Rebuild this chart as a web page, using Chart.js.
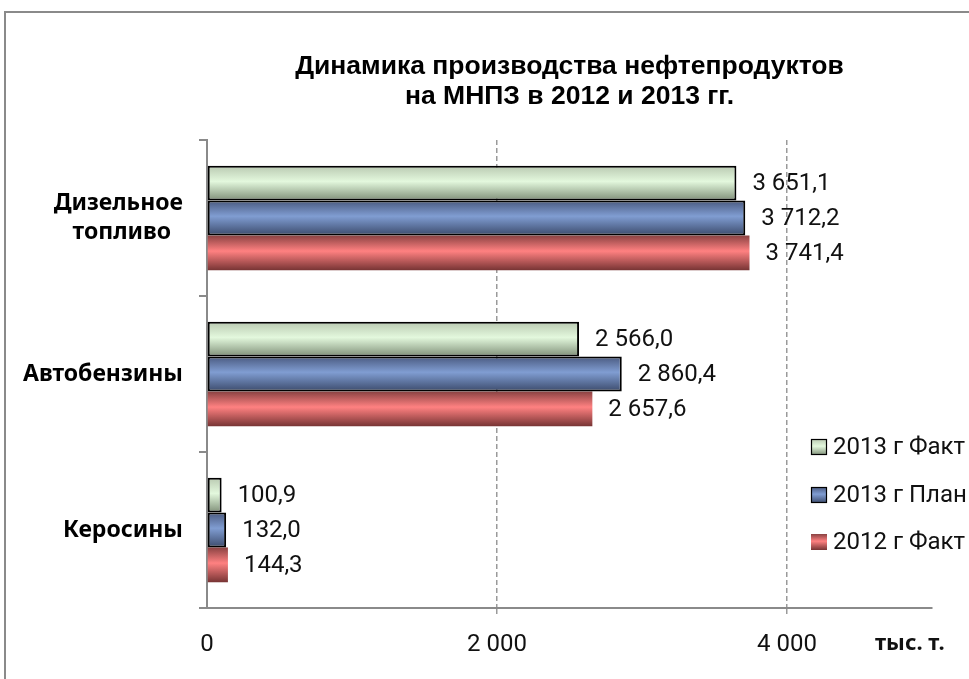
<!DOCTYPE html>
<html>
<head>
<meta charset="utf-8">
<script src="https://cdn.jsdelivr.net/npm/chart.js@4.4.0/dist/chart.umd.min.js"></script>
<style>
    html, body { margin: 0; padding: 0; background: #fff; }
    #wrap { position: relative; width: 969px; height: 679px; overflow: hidden; }
    #frame { position: absolute; left: 4px; top: 11px; width: 1100px; height: 800px; border: 2px solid #8a8a8a; }
    #grafico { position: absolute; left: 0; top: 0; }
</style>
</head>
<body>
<div id="wrap">
    <div id="frame"></div>
    <canvas id="grafico" width="969" height="679"></canvas>
</div>
<script>
// datos (тыс. т.)
const categorias = [['Дизельное', 'топливо  '], 'Автобензины', 'Керосины'];
const series = ['2013 г Факт', '2013 г План', '2012 г Факт'];
const fakt2013 = [3651.1, 2566.0, 100.9];
const plan2013 = [3712.2, 2860.4, 132.0];
const fakt2012 = [3741.4, 2657.6, 144.3];
const ticksX = [0, 2000, 4000];
const maxX = 5000;
const titulo = ['Динамика производства нефтепродуктов', 'на МНПЗ в 2012 и 2013 гг.'];
const unidad = 'тыс. т.';

const catPct = 0.67;
const colores = [
    { top: '#b9c9b1', mid: '#e3f8dd', bot: '#7f8f78', borde: '#000' },
    { top: '#4a5a80', mid: '#809dd2', bot: '#3c4b6c', borde: '#000' },
    { top: '#8a4242', mid: '#ff8181', bot: '#773434', borde: null }
];

function fmt(v, d) {
    const s = v.toFixed(d).split('.');
    const ent = s[0].replace(/\B(?=(\d{3})+(?!\d))/g, ' ');
    return s.length > 1 ? ent + ',' + s[1] : ent;
}

function degradado(g, c, top, alto) {
    const grad = g.createLinearGradient(0, top, 0, top + alto);
    grad.addColorStop(0, c.top);
    grad.addColorStop(0.45, c.mid);
    grad.addColorStop(1, c.bot);
    return grad;
}

// gradiente vertical por barra, calculado desde la escala
function fondoBarra(ctx) {
    const c = colores[ctx.datasetIndex];
    const chart = ctx.chart;
    const y = chart.scales.y;
    if (!y || ctx.type !== 'data') return c.mid;
    const n = chart.data.labels.length;
    const m = chart.data.datasets.length;
    const grupo = (y.bottom - y.top) / n * catPct;
    const alto = grupo / m;
    const top = y.getPixelForValue(ctx.dataIndex) - grupo / 2 + ctx.datasetIndex * alto;
    if (!isFinite(top) || !isFinite(alto) || alto <= 0) return c.mid;
    return degradado(chart.ctx, c, top, alto);
}

const etiquetas = {
    id: 'etiquetas',
    afterDatasetsDraw(chart) {
        const g = chart.ctx;
        g.save();
        g.font = '24px Roboto';
        g.fillStyle = '#111';
        g.textAlign = 'left';
        g.textBaseline = 'middle';
        chart.data.datasets.forEach((ds, i) => {
            chart.getDatasetMeta(i).data.forEach((bar, j) => {
                g.fillText(fmt(ds.data[j], 1), bar.x + 16, bar.y + 1);
            });
        });
        g.restore();
    }
};

const leyenda = {
    id: 'leyenda',
    afterDraw(chart) {
        const g = chart.ctx;
        const a = chart.chartArea;
        const x = a.right - 121;
        const filas = [a.bottom - 161, a.bottom - 113, a.bottom - 66];
        g.save();
        g.font = '24px Roboto';
        g.fillStyle = '#111';
        g.textBaseline = 'middle';
        series.forEach((s, i) => {
            const c = colores[i];
            const y0 = filas[i] - 8;
            g.fillStyle = degradado(g, c, y0, 16);
            g.fillRect(x, y0, 16, 16);
            if (c.borde) {
                g.strokeStyle = c.borde;
                g.lineWidth = 1.2;
                g.strokeRect(x + 0.5, y0 + 0.5, 15, 15);
            }
            g.fillStyle = '#111';
            g.fillText(s, x + 22, filas[i] + 1);
        });
        // unidad del eje
        g.font = 'bold 22px "Noto Sans"';
        g.fillText(unidad, a.right - 57, a.bottom + 36);
        g.restore();
    }
};

const datasets = [fakt2013, plan2013, fakt2012].map((d, i) => ({
    label: series[i],
    data: d,
    backgroundColor: fondoBarra,
    borderColor: colores[i].borde || 'rgba(0,0,0,0)',
    borderWidth: colores[i].borde ? 2 : 0,
    borderSkipped: false,
    barPercentage: 1,
    categoryPercentage: catPct
}));

new Chart(document.getElementById('grafico').getContext('2d'), {
    type: 'bar',
    data: { labels: categorias, datasets: datasets },
    options: {
        indexAxis: 'y',
        responsive: false,
        animation: false,
        layout: { padding: { top: 0, right: 37, bottom: 0, left: 0 } },
        plugins: {
            legend: { display: false },
            tooltip: { enabled: false },
            title: {
                display: true,
                fullSize: false,
                text: titulo,
                color: '#000',
                font: { family: '"Liberation Sans", Arial', size: 26.5, weight: 'bold', lineHeight: 30 / 26.5 },
                padding: { top: 52, bottom: 28 }
            }
        },
        scales: {
            x: {
                min: 0,
                max: maxX,
                afterBuildTicks: (s) => { s.ticks = ticksX.map(v => ({ value: v })); },
                afterFit: (s) => { s.height = 71; },
                ticks: {
                    color: '#111',
                    font: { family: 'Roboto', size: 24 },
                    padding: 17,
                    callback: (v) => fmt(v, 0)
                },
                grid: {
                    color: (c) => c.tick && c.tick.value === 0 ? 'rgba(0,0,0,0)' : '#9a9a9a',
                    lineWidth: 1.5,
                    tickLength: 6,
                    tickBorderDash: [5, 3]
                },
                border: { display: true, color: '#8a8a8a', width: 2, dash: [5, 3] }
            },
            y: {
                afterFit: (s) => { s.width = 207; },
                ticks: {
                    color: '#000',
                    font: { family: '"Noto Sans"', size: 23, weight: 'bold', lineHeight: 1.27 },
                    padding: 16
                },
                grid: {
                    offset: true,
                    drawOnChartArea: false,
                    color: '#8a8a8a',
                    lineWidth: 2,
                    tickLength: 8
                },
                border: { display: true, color: '#8a8a8a', width: 2 }
            }
        }
    },
    plugins: [etiquetas, leyenda]
});
</script>
</body>
</html>
